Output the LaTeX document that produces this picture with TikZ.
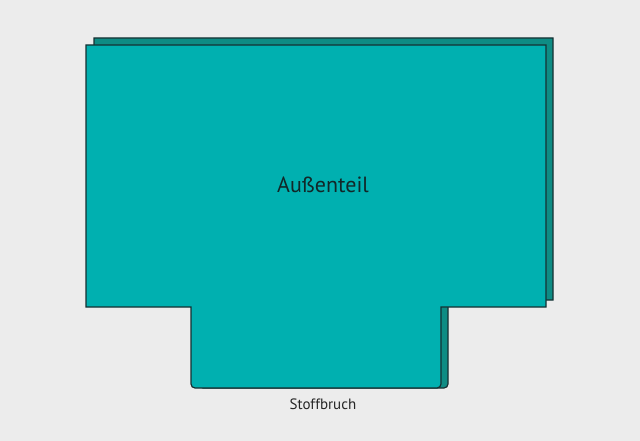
\documentclass[tikz,border=0pt]{standalone}
\usepackage{fontspec}
\setmainfont{PT Sans}
\usepackage{tikz}
\usetikzlibrary{calc}

\definecolor{hell}{RGB}{0,176,176}
\definecolor{dunkel}{RGB}{14,140,132}
\definecolor{kante}{RGB}{22,48,50}
\definecolor{grund}{RGB}{236,236,236}

\begin{document}
\begin{tikzpicture}[x=1pt,y=-1pt,
    teil/.style={draw=kante,line width=1.2pt,line join=miter}]
    \fill [grund] (0,0) rectangle (640,441);
    \useasboundingbox (0,0) rectangle (640,441);
    % hintere Lage
    \draw[teil,fill=dunkel] (199,300) -- (94,300) -- (94,38) -- (553,38) -- (553,300) -- (448,300) [rounded corners=4pt] -- (448,388) -- (199,388) [sharp corners] -- cycle;
    % vordere Lage
    \draw[teil,fill=hell] (191,307) -- (86,307) -- (86,45) -- (546,45) -- (546,307) -- (441,307) [rounded corners=4pt] -- (441,388) -- (191,388) [sharp corners] -- cycle;
    \node[font=\fontsize{22}{26}\selectfont,text=kante!80!black] (teil) at (323,185) {Außenteil};
    \node[font=\fontsize{15}{18}\selectfont,text=black!85] (bruch) at (323,404) {Stoffbruch};
\end{tikzpicture}
\end{document}
